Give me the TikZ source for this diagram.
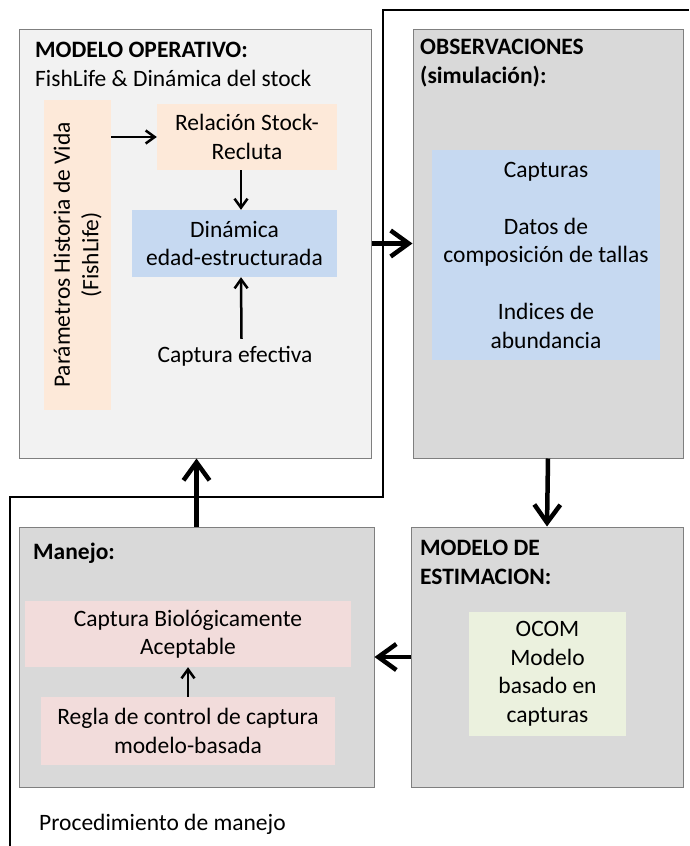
\documentclass[tikz,border=0pt]{standalone}
\usepackage{fontspec}
\setmainfont{Carlito}
\usetikzlibrary{arrows.meta}

\definecolor{opgray}{HTML}{F2F2F2}
\definecolor{boxgray}{HTML}{D9D9D9}
\definecolor{edgegray}{HTML}{7F7F7F}
\definecolor{peach}{HTML}{FDE9D9}
\definecolor{lightblue}{HTML}{C6D9F1}
\definecolor{rose}{HTML}{F2DCDB}
\definecolor{palegreen}{HTML}{EBF1DE}

\begin{document}
\begin{tikzpicture}[x=1pt,y=-1pt,
	every node/.style={font=\fontsize{23.5}{28.5}\selectfont},
	bigbox/.style={draw=edgegray,line width=1pt,inner sep=0pt},
	inbox/.style={inner sep=0pt,align=center},
	title/.style={anchor=west,align=left,inner sep=2pt},
	thinarrow/.style={line width=2.5pt,-{Straight Barb[length=9pt,width=13pt]}},
	thickarrow/.style={line width=4.5pt,-{Straight Barb[length=18pt,width=26pt]}},
	procline/.style={line width=2.5pt}]
			\useasboundingbox (0,0) rectangle (689,846);
			
			% main blocks
			\node[bigbox,fill=opgray,minimum width=352pt,minimum height=429pt] (op) at (195,243.5) {};
			\node[bigbox,fill=boxgray,minimum width=270pt,minimum height=429pt] (obs) at (548,243.5) {};
			\node[bigbox,fill=boxgray,minimum width=355pt,minimum height=260pt] (man) at (196.5,657) {};
			\node[bigbox,fill=boxgray,minimum width=272pt,minimum height=260pt] (est) at (547,657) {};
			
			\node[title] (optitle) at (33,64.5) {\textbf{MODELO OPERATIVO:}\\FishLife \& Dinámica del stock};
			\node[title,font=\fontsize{23.5}{29.5}\selectfont\bfseries] (obstitle) at (418,63) {OBSERVACIONES\\(simulación):};
			\node[title,font=\fontsize{23.5}{28.5}\selectfont\bfseries] (mantitle) at (31,553) {Manejo:};
			\node[title,font=\fontsize{23.5}{28.5}\selectfont\bfseries] (esttitle) at (418,562.5) {MODELO DE\\ESTIMACION:};
			\node[title] (proc) at (37,824) {Procedimiento de manejo};
			
			% operating model
			\node[inbox,fill=peach,rotate=90,minimum width=310pt,minimum height=67pt] (hist) at (77.5,255) {Parámetros Historia de Vida\\(FishLife)};
			\node[inbox,fill=peach,minimum width=180pt,minimum height=66pt] (srr) at (247,137) {Relación Stock-\\Recluta};
			\node[inbox,fill=lightblue,minimum width=205pt,minimum height=67pt] (dyn) at (234.5,243.5) {Dinámica\\edad-estructurada};
			\node[inner sep=7pt] (catch) at (235,356) {Captura efectiva};
			
			% observations
			\node[inbox,fill=lightblue,minimum width=228pt,minimum height=210pt] (data) at (546,255) {Capturas\\[28.5pt]Datos de\\composición de tallas\\[28.5pt]Indices de\\abundancia};
			
			% management
			\node[inbox,fill=rose,minimum width=326pt,minimum height=66pt] (cba) at (188,634) {Captura Biológicamente\\Aceptable};
			\node[inbox,fill=rose,minimum width=294pt,minimum height=68pt] (hcr) at (188,731) {Regla de control de captura\\modelo-basada};
			
			% estimation
			\node[inbox,fill=palegreen,minimum width=157pt,minimum height=124pt] (ocom) at (547.5,674) {OCOM\\Modelo\\basado en\\capturas};
			
			\coordinate (lbot) at (10,846);
			\coordinate (lmid) at (383,497);
			\coordinate (ltop) at (689,10);
			\draw[procline] (lbot) |- (lmid) |- (ltop);
			
			\draw[thinarrow] (hist.south |- srr.west) to (srr.west);
			\draw[thinarrow] ([xshift=6.5pt]dyn.north |- srr.south) to ([xshift=6.5pt]dyn.north);
			\draw[thinarrow] ([xshift=6.5pt]catch.north) to ([xshift=6.5pt]dyn.south);
			\draw[thinarrow] (hcr.north) to (cba.south);
			
			\draw[thickarrow] (op.east) to (obs.west);
			\draw[thickarrow] (obs.south) to (est.north);
			\draw[thickarrow] (est.west) to (man.east);
			\draw[thickarrow] (man.north) to (man.north |- op.south);
			\end{tikzpicture}
\end{document}
